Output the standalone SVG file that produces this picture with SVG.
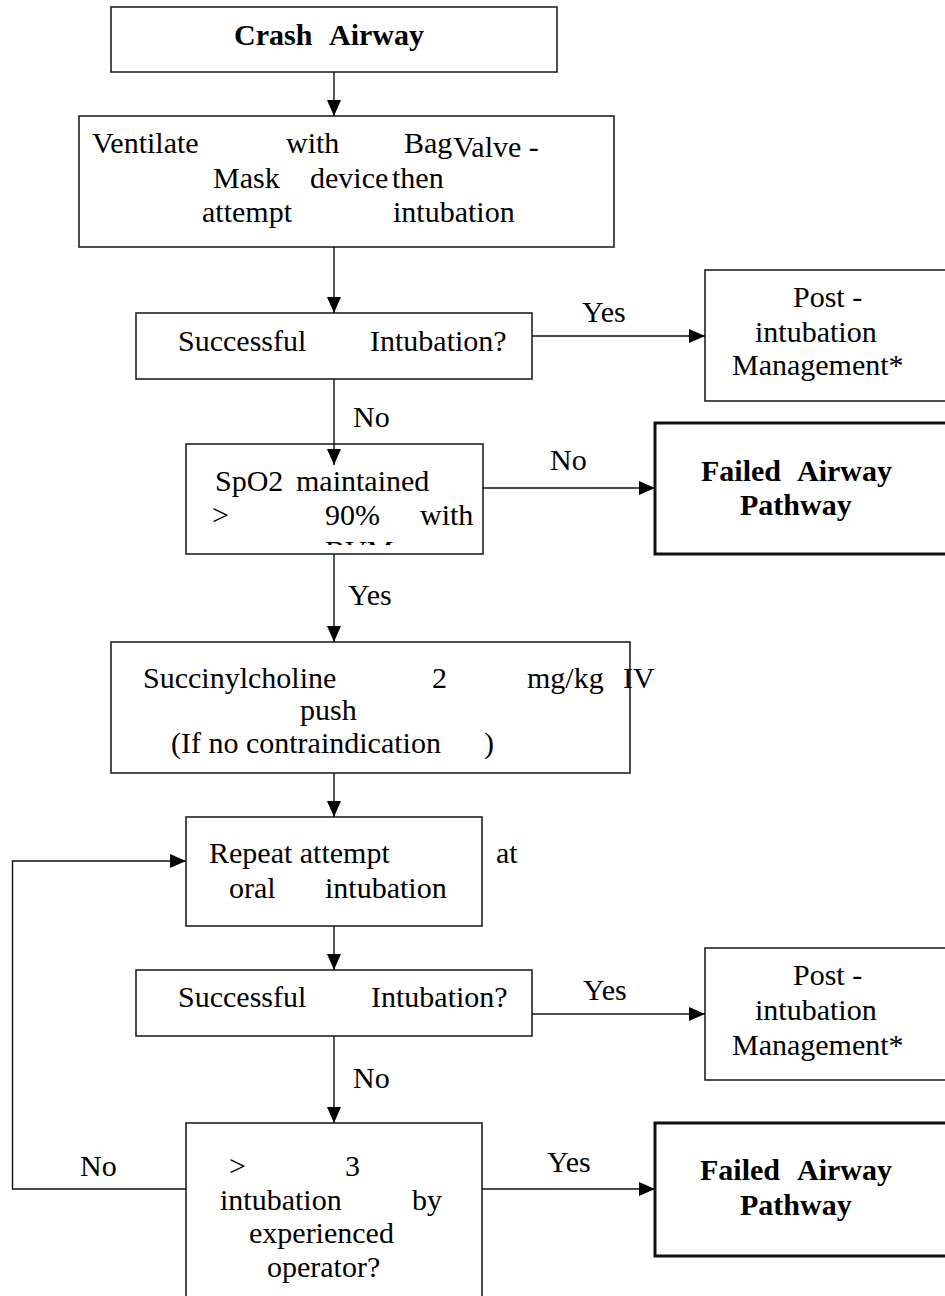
<svg xmlns="http://www.w3.org/2000/svg" width="945" height="1296" viewBox="0 0 945 1296">
  <style>
    .box { fill: #fff; stroke: #222; stroke-width: 1.6; }
    .thick { fill: #fff; stroke: #111; stroke-width: 3; }
    .t { font-family: "Liberation Serif", "Times New Roman", serif; font-size: 30px; fill: #000; }
    .b { font-weight: bold; }
    .line { fill: none; stroke: #111; stroke-width: 1.4; }
  </style>
  <defs>
    <marker id="arrow" markerUnits="userSpaceOnUse" markerWidth="17" markerHeight="15" refX="16" refY="7" orient="auto">
      <path d="M0,0 L16,7 L0,14 Z" fill="#000"/>
    </marker>
    <clipPath id="spo2clip">
      <rect x="186" y="444" width="297" height="101"/>
    </clipPath>
  </defs>

  <rect width="945" height="1296" fill="#fff"/>

  <g id="crash-airway">
    <rect class="box" x="111" y="7" width="446" height="65"/>
    <text class="t b" x="234" y="45">Crash</text>
    <text class="t b" x="329" y="45">Airway</text>
  </g>

  <g id="ventilate">
    <rect class="box" x="79" y="116" width="535" height="131" stroke-width="2.2"/>
    <text class="t" x="92" y="153">Ventilate</text>
    <text class="t" x="286" y="153">with</text>
    <text class="t" x="404" y="153">Bag</text>
    <text class="t" x="453" y="157" font-size="27">Valve -</text>
    <text class="t" x="213" y="188">Mask</text>
    <text class="t" x="310" y="188">device</text>
    <text class="t" x="392" y="188">then</text>
    <text class="t" x="202" y="222">attempt</text>
    <text class="t" x="393" y="222">intubation</text>
  </g>

  <g id="successful-1">
    <rect class="box" x="136" y="313" width="396" height="66"/>
    <text class="t" x="178" y="351">Successful</text>
    <text class="t" x="370" y="351">Intubation?</text>
  </g>

  <g id="post-intubation-1">
    <rect class="box" x="705" y="270" width="245" height="131"/>
    <text class="t" x="793" y="307">Post -</text>
    <text class="t" x="755" y="342">intubation</text>
    <text class="t" x="732" y="375">Management*</text>
  </g>

  <g id="spo2">
    <rect class="box" x="186" y="444" width="297" height="110"/>
    <text class="t" x="215" y="491">SpO2</text>
    <text class="t" x="296" y="491">maintained</text>
    <text class="t" x="212" y="525">&gt;</text>
    <text class="t" x="325" y="525">90%</text>
    <text class="t" x="420" y="525">with</text>
    <text class="t" x="325" y="561" clip-path="url(#spo2clip)">BVM</text>
  </g>

  <g id="failed-1">
    <rect class="thick" x="655" y="423" width="295" height="131"/>
    <text class="t b" x="701" y="481">Failed</text>
    <text class="t b" x="797" y="481">Airway</text>
    <text class="t b" x="740" y="515">Pathway</text>
  </g>

  <g id="succinylcholine">
    <rect class="box" x="111" y="642" width="519" height="131"/>
    <text class="t" x="143" y="688">Succinylcholine</text>
    <text class="t" x="432" y="688">2</text>
    <text class="t" x="527" y="688">mg/kg</text>
    <text class="t" x="623" y="688">IV</text>
    <text class="t" x="300" y="720">push</text>
    <text class="t" x="171" y="753">(If no contraindication</text>
    <text class="t" x="484" y="753">)</text>
  </g>

  <g id="repeat-attempt">
    <rect class="box" x="186" y="817" width="296" height="109"/>
    <text class="t" x="209" y="863">Repeat attempt</text>
    <text class="t" x="496" y="863">at</text>
    <text class="t" x="229" y="898">oral</text>
    <text class="t" x="325" y="898">intubation</text>
  </g>

  <g id="successful-2">
    <rect class="box" x="136" y="970" width="396" height="66"/>
    <text class="t" x="178" y="1007">Successful</text>
    <text class="t" x="371" y="1007">Intubation?</text>
  </g>

  <g id="post-intubation-2">
    <rect class="box" x="705" y="948" width="245" height="132"/>
    <text class="t" x="793" y="985">Post -</text>
    <text class="t" x="755" y="1020">intubation</text>
    <text class="t" x="732" y="1055">Management*</text>
  </g>

  <g id="attempts-check">
    <rect class="box" x="186" y="1123" width="296" height="190"/>
    <text class="t" x="229" y="1176">&gt;</text>
    <text class="t" x="345" y="1176">3</text>
    <text class="t" x="220" y="1210">intubation</text>
    <text class="t" x="412" y="1210">by</text>
    <text class="t" x="249" y="1243">experienced</text>
    <text class="t" x="267" y="1277">operator?</text>
  </g>

  <g id="failed-2">
    <rect class="thick" x="655" y="1123" width="295" height="133"/>
    <text class="t b" x="700" y="1180">Failed</text>
    <text class="t b" x="797" y="1180">Airway</text>
    <text class="t b" x="740" y="1215">Pathway</text>
  </g>

  <!-- connectors, drawn last so the arrowhead that reaches into the SpO2 box stays visible -->
  <g id="connectors">
    <line class="line" x1="334" y1="72" x2="334" y2="116" marker-end="url(#arrow)"/>
    <line class="line" x1="334" y1="247" x2="334" y2="313" marker-end="url(#arrow)"/>
    <line class="line" x1="334" y1="379" x2="334" y2="465" marker-end="url(#arrow)"/>
    <line class="line" x1="532" y1="336" x2="705" y2="336" marker-end="url(#arrow)"/>
    <line class="line" x1="483" y1="488" x2="655" y2="488" marker-end="url(#arrow)"/>
    <line class="line" x1="334" y1="554" x2="334" y2="642" marker-end="url(#arrow)"/>
    <line class="line" x1="334" y1="773" x2="334" y2="817" marker-end="url(#arrow)"/>
    <line class="line" x1="334" y1="926" x2="334" y2="970" marker-end="url(#arrow)"/>
    <line class="line" x1="532" y1="1014" x2="705" y2="1014" marker-end="url(#arrow)"/>
    <line class="line" x1="334" y1="1036" x2="334" y2="1123" marker-end="url(#arrow)"/>
    <line class="line" x1="482" y1="1189" x2="655" y2="1189" marker-end="url(#arrow)"/>
    <polyline class="line" points="186,1189 12.5,1189 12.5,861 186,861" marker-end="url(#arrow)"/>
    <text class="t" x="582" y="322">Yes</text>
    <text class="t" x="353" y="427">No</text>
    <text class="t" x="550" y="470">No</text>
    <text class="t" x="348" y="605">Yes</text>
    <text class="t" x="583" y="1000">Yes</text>
    <text class="t" x="353" y="1088">No</text>
    <text class="t" x="547" y="1172">Yes</text>
    <text class="t" x="80" y="1176">No</text>
  </g>
</svg>
